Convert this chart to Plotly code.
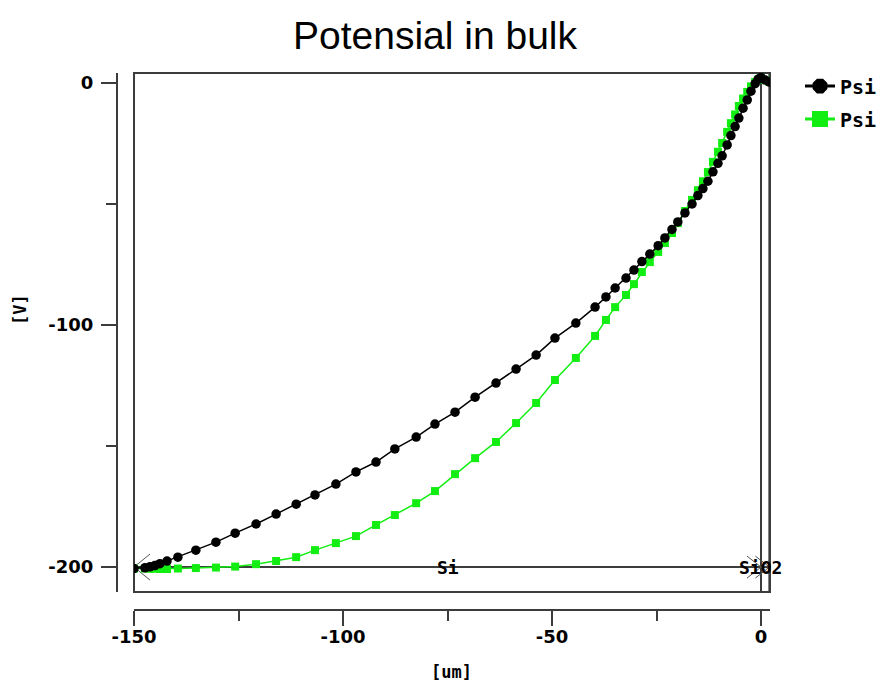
import plotly.graph_objects as go

# Depth mesh through the bulk (um); shared by both potential profiles
depth_um = [
    -150.0, -147.4, -146.2, -145.0, -143.8, -142.1, -139.5, -135.2, -130.4, -125.8,
    -120.8, -116.0, -111.2, -106.7, -101.7, -96.9, -92.1, -87.6, -82.5, -78.0,
    -73.2, -68.4, -63.4, -58.6, -53.8, -49.3, -44.3, -39.7, -37.1, -34.9,
    -32.3, -30.4, -28.5, -26.6, -24.6, -23.0, -21.3, -19.9, -18.2, -16.5,
    -15.1, -13.9, -12.7, -11.5, -10.3, -9.3, -8.1, -7.2, -6.2, -5.3,
    -4.3, -3.3, -2.4, -1.4, -0.7, 0.0, 1.0, 2.0,
]

# Potential Psi (V), first profile (black)
psi_black = [
    -200.6, -200.3, -199.9, -199.4, -198.6, -197.5, -195.9, -193.0, -189.7, -186.0,
    -182.2, -178.1, -174.0, -170.2, -165.7, -160.7, -156.6, -151.2, -146.3, -140.9,
    -136.0, -129.8, -124.0, -118.2, -112.4, -105.4, -99.2, -92.6, -88.4, -84.7,
    -80.6, -77.3, -73.8, -70.7, -67.2, -64.0, -60.5, -57.4, -53.7, -50.0,
    -46.5, -43.6, -40.6, -36.7, -33.2, -30.1, -25.6, -21.7, -18.0, -14.5,
    -10.4, -7.0, -3.4, -0.3, 1.5, 2.3, 1.2, 0.4,
]

# Potential Psi (V), second profile (green)
psi_green = [
    -200.6, -200.6, -200.7, -200.7, -200.8, -200.8, -200.6, -200.4, -200.2, -199.8,
    -198.8, -197.5, -195.9, -193.0, -190.1, -187.2, -182.6, -178.5, -173.6, -168.6,
    -161.6, -155.0, -148.3, -140.5, -132.2, -122.7, -113.6, -104.5, -97.9, -92.6,
    -87.6, -83.1, -78.1, -74.0, -69.8, -66.1, -62.0, -57.9, -52.9, -48.3,
    -44.3, -40.6, -36.8, -32.6, -28.4, -24.8, -20.2, -16.6, -13.0, -9.5,
    -6.4, -3.7, -1.4, 0.4, 1.4, 2.1, 1.2, 0.4,
]

series_names = ["Psi", "Psi"]

# Material regions: name, start, end (um)
region_names = ["Si", "SiO2"]
region_start = [-150.0, 0.0]
region_end = [0.0, 2.0]
region_level = -200.0
region_label_shift = [0, -5]

x_ticks = [-150, -100, -50, 0]
x_tick_text = ["-150", "-100", "-50", "0"]
x_minor = [-125, -75, -25]
y_ticks = [-200, -100, 0]
y_tick_text = ["-200", "-100", "0"]
y_minor = [-150, -50]

BLACK = "#000000"
GREEN = "#12ee12"
FRAME = "#3c3c3c"

W, H = 890, 682
ML, MR, MT, MB = 117, 120, 73, 72
PW, PH = W - ML - MR, H - MT - MB

fig = go.Figure()

# green drawn first so the black profile sits on top
fig.add_trace(go.Scatter(
    x=depth_um, y=psi_green, mode="lines+markers", showlegend=False,
    line=dict(color=GREEN, width=1.5),
    marker=dict(symbol="square", size=8, color=GREEN),
))
fig.add_trace(go.Scatter(
    x=depth_um, y=psi_black, mode="lines+markers", showlegend=False,
    line=dict(color=BLACK, width=1.5),
    marker=dict(symbol="circle", size=9.5, color=BLACK),
))

# legend handles with large symbols
fig.add_trace(go.Scatter(
    x=[None], y=[None], mode="lines+markers", name=series_names[0],
    legendgroup="a", line=dict(color=BLACK, width=3),
    marker=dict(symbol="octagon", size=16, color=BLACK),
))
fig.add_trace(go.Scatter(
    x=[None], y=[None], mode="lines+markers", name=series_names[1],
    legendgroup="b", line=dict(color=GREEN, width=3),
    marker=dict(symbol="square", size=16, color=GREEN),
))

shapes = [
    dict(type="rect", xref="x domain", yref="y domain", x0=0, x1=1, y0=0, y1=1,
         line=dict(color=FRAME, width=2), layer="below"),
]
# region boundaries (vertical), region baseline and arrow ends
for name, x0, x1 in zip(region_names, region_start, region_end):
    for xb in (x0, x1):
        shapes.append(dict(type="line", xref="x", yref="y domain", x0=xb, x1=xb,
                           y0=0, y1=1, line=dict(color=FRAME, width=2), layer="below"))
    shapes.append(dict(type="line", xref="x", yref="y", x0=x0, x1=x1,
                       y0=region_level, y1=region_level,
                       line=dict(color=FRAME, width=2), layer="below"))
    shapes.append(dict(type="path", xref="x", yref="y", xsizemode="pixel",
                       ysizemode="pixel", xanchor=x0, yanchor=region_level,
                       path="M 16 13 L 0 0 L 16 -13",
                       line=dict(color="#555555", width=1), layer="below"))
    shapes.append(dict(type="path", xref="x", yref="y", xsizemode="pixel",
                       ysizemode="pixel", xanchor=x1, yanchor=region_level,
                       path="M -14 11 L 0 0 L -14 -11",
                       line=dict(color="#555555", width=1), layer="below"))

annotations = []
for name, x0, x1, dx in zip(region_names, region_start, region_end, region_label_shift):
    annotations.append(dict(
        x=(x0 + x1) / 2, y=region_level, xref="x", yref="y", text=name,
        showarrow=False, xanchor="center", yanchor="middle", xshift=dx,
        font=dict(family="DejaVu Sans Mono", size=18, color=BLACK, weight="bold"),
    ))

# axis titles
annotations.append(dict(
    x=(20 - ML) / PW, y=(H - MB - 310) / PH, xref="paper", yref="paper",
    text="[V]", showarrow=False, textangle=-90, xanchor="center", yanchor="middle",
    font=dict(family="DejaVu Sans Mono", size=17, color=BLACK, weight="bold"),
))
annotations.append(dict(
    x=(451 - ML) / PW, y=(H - MB - 672) / PH, xref="paper", yref="paper",
    text="[um]", showarrow=False, xanchor="center", yanchor="middle",
    font=dict(family="DejaVu Sans Mono", size=17, color=BLACK, weight="bold"),
))

tick_font = dict(family="DejaVu Sans", size=18, color=BLACK, weight="bold")

fig.update_layout(
    width=W, height=H,
    margin=dict(l=ML, r=MR, t=MT, b=MB, autoexpand=False),
    paper_bgcolor="white", plot_bgcolor="white",
    title=dict(text="Potensial in bulk", x=435 / W, xref="container", xanchor="center",
               y=1 - 35 / H, yref="container", yanchor="middle",
               font=dict(family="Liberation Sans", size=39, color=BLACK)),
    xaxis=dict(
        domain=[(134 - ML) / PW, 1], anchor="free", position=0,
        range=[-150, 2.15], showgrid=False, zeroline=False,
        showline=True, linecolor=FRAME, linewidth=2,
        tickmode="array", tickvals=x_ticks, ticktext=x_tick_text,
        ticks="outside", ticklen=15, tickwidth=2, tickcolor=FRAME,
        tickfont=tick_font, ticklabelstandoff=-5,
        minor=dict(tickvals=x_minor, ticks="outside", ticklen=10, tickwidth=2,
                   tickcolor=FRAME, showgrid=False),
    ),
    yaxis=dict(
        domain=[(H - MB - 592) / PH, 1], anchor="free", position=0,
        range=[-210.3, 4.13], showgrid=False, zeroline=False,
        showline=True, linecolor=FRAME, linewidth=2,
        tickmode="array", tickvals=y_ticks, ticktext=y_tick_text,
        ticks="outside", ticklen=15, tickwidth=2, tickcolor=FRAME,
        tickfont=tick_font, ticklabelstandoff=4,
        minor=dict(tickvals=y_minor, ticks="outside", ticklen=10, tickwidth=2,
                   tickcolor=FRAME, showgrid=False),
    ),
    legend=dict(
        x=(800 - ML) / PW, y=1.012, xanchor="left", yanchor="top",
        bgcolor="rgba(0,0,0,0)", tracegroupgap=4, itemwidth=30,
        font=dict(family="DejaVu Sans Mono", size=20, color=BLACK, weight="bold"),
    ),
    shapes=shapes,
    annotations=annotations,
)

fig.write_html("out.html")
